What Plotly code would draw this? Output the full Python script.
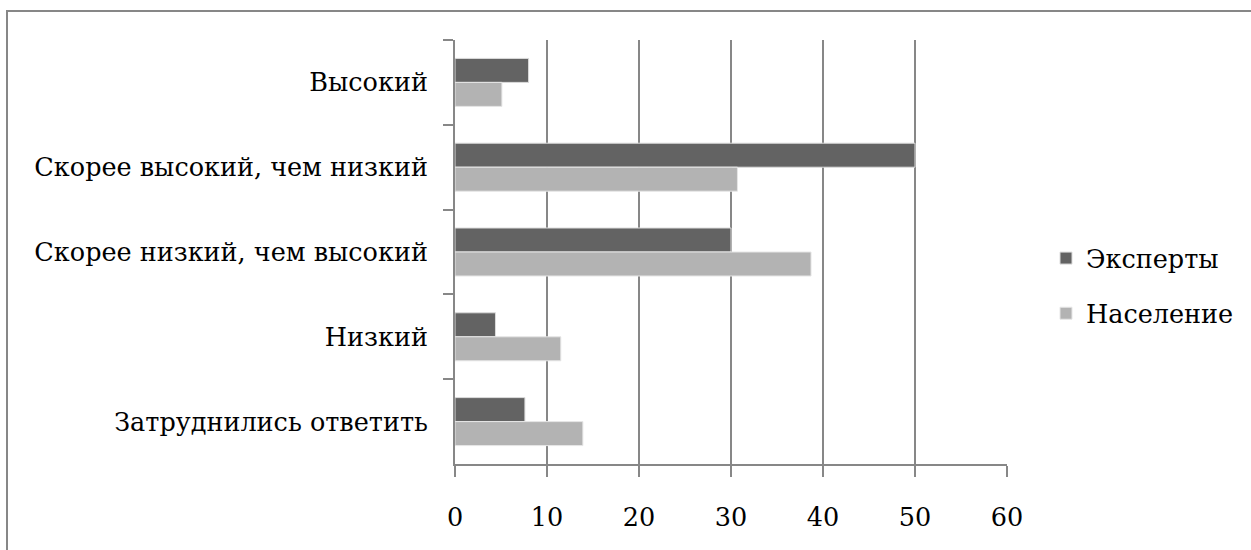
import plotly.graph_objects as go

# Survey answer categories (top to bottom)
categories = [
    "Высокий",
    "Скорее высокий, чем низкий",
    "Скорее низкий, чем высокий",
    "Низкий",
    "Затруднились ответить",
]
experts = [8.0, 50.0, 30.0, 4.4, 7.6]
population = [5.1, 30.7, 38.7, 11.5, 13.9]
x_ticks = [0, 10, 20, 30, 40, 50, 60]

FONT = "DejaVu Serif"
FONT_SIZE = 25.5
AXIS_GRAY = "#878787"

fig = go.Figure()
fig.add_trace(go.Bar(
    y=categories, x=experts, orientation="h", name="Эксперты",
    legendgroup="experts",
    marker=dict(color="#636363", line=dict(color="#dcdcdc", width=1)),
))
fig.add_trace(go.Bar(
    y=categories, x=population, orientation="h", name="Население",
    legendgroup="population",
    marker=dict(color="#b3b3b3", line=dict(color="#e6e6e6", width=1)),
))

W, H = 1251, 550
L, R, T, B = 455, 244, 40, 86
pw, ph = W - L - R, H - T - B

def px_to_paper_x(px):
    return (px - L) / pw

def px_to_paper_y(py):
    return 1 - (py - T) / ph

# outer frame (top and left edges)
fig.add_shape(type="line", xref="paper", yref="paper",
              x0=px_to_paper_x(7), x1=px_to_paper_x(W + 5),
              y0=px_to_paper_y(11), y1=px_to_paper_y(11),
              line=dict(color=AXIS_GRAY, width=2))
fig.add_shape(type="line", xref="paper", yref="paper",
              x0=px_to_paper_x(7), x1=px_to_paper_x(7),
              y0=px_to_paper_y(10), y1=px_to_paper_y(H + 5),
              line=dict(color=AXIS_GRAY, width=2))

fig.update_layout(
    width=W, height=H,
    margin=dict(l=L, r=R, t=T, b=B, pad=0),
    paper_bgcolor="white", plot_bgcolor="white",
    barmode="group", bargap=0.434, bargroupgap=0,
    font=dict(family=FONT, size=FONT_SIZE, color="#000000"),
    showlegend=True,
    legend=dict(
        x=px_to_paper_x(1046), y=px_to_paper_y(235),
        xanchor="left", yanchor="top",
        traceorder="grouped",
        font=dict(family=FONT, size=FONT_SIZE, color="#000000"),
        bgcolor="rgba(0,0,0,0)",
        itemwidth=30,
        tracegroupgap=19,
    ),
    xaxis=dict(
        range=[0, 60], tickvals=x_ticks, ticktext=[str(v) for v in x_ticks],
        showgrid=True, gridcolor=AXIS_GRAY, gridwidth=2,
        showline=True, linecolor=AXIS_GRAY, linewidth=2,
        ticks="outside", ticklen=11, tickwidth=2, tickcolor=AXIS_GRAY,
        ticklabelstandoff=18,
        zeroline=False, fixedrange=True,
    ),
    yaxis=dict(
        type="category", categoryorder="array", categoryarray=categories,
        autorange="reversed",
        showgrid=False, zeroline=False,
        showline=True, linecolor=AXIS_GRAY, linewidth=2,
        ticks="outside", tickson="boundaries", ticklen=10, tickwidth=2,
        tickcolor=AXIS_GRAY, ticklabelstandoff=20,
        fixedrange=True,
    ),
)

fig.write_html("out.html")
